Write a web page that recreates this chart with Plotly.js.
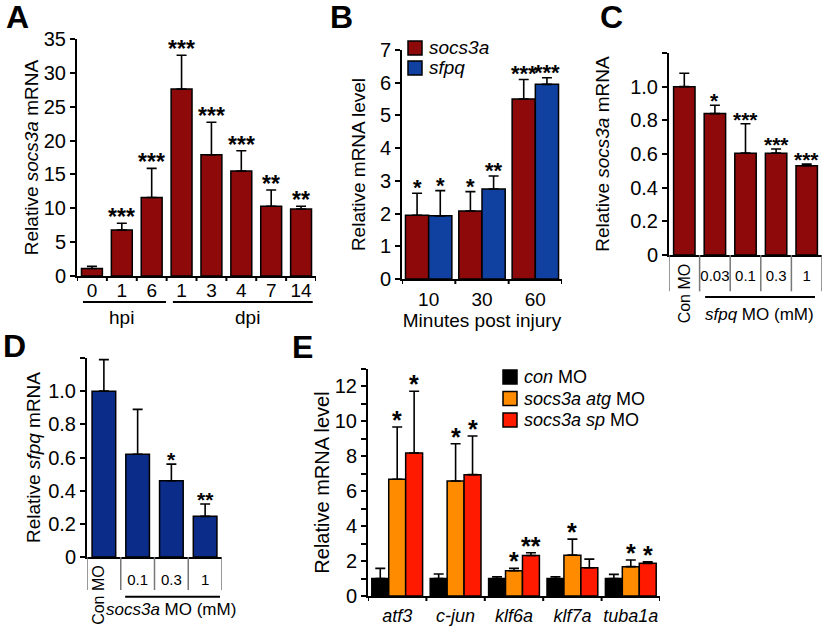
<!DOCTYPE html>
<html><head><meta charset="utf-8">
<script src="https://cdn.plot.ly/plotly-3.0.1.min.js"></script>
<style>html,body{margin:0;padding:0;background:#fff}</style>
</head><body><div id="chart" style="width:825px;height:627px"></div>
<script>
// ---------- Panel A ----------
const aCategories = ['0 hpi','1 hpi','6 hpi','1 dpi','3 dpi','4 dpi','7 dpi','14 dpi'];
const aTickText = ['0','1','6','1','3','4','7','14'];
const aValues = [1.1, 6.8, 11.6, 27.6, 17.9, 15.5, 10.3, 9.9];
const aErrors = [0.35, 1.0, 4.3, 5.0, 4.8, 3.0, 2.4, 0.4];
const aStars = ['', '***', '***', '***', '***', '***', '**', '**'];
// ---------- Panel B ----------
const bCategories = ['10','30','60'];
const bSeriesNames = ['socs3a', 'sfpq'];
const bSocs3a = [1.95, 2.08, 5.5];
const bSocs3aErr = [0.67, 0.59, 0.6];
const bSfpq = [1.93, 2.75, 5.95];
const bSfpqErr = [0.77, 0.4, 0.2];
const bSocs3aStars = ['*','*','***'];
const bSfpqStars = ['*','**','***'];
// ---------- Panel C ----------
const cCategories = ['Con MO','0.03','0.1','0.3','1'];
const cTickText = ['', '0.03','0.1','0.3','1'];
const cValues = [1.0, 0.84, 0.605, 0.605, 0.53];
const cErrors = [0.08, 0.05, 0.175, 0.025, 0.01];
const cStars = ['', '*', '***', '***', '***'];
const yTickVals12 = [0,0.2,0.4,0.6,0.8,1.0,1.2];
const yTickText12 = ['0','0.2','0.4','0.6','0.8','1.0',''];
// ---------- Panel D ----------
const dCategories = ['Con MO','0.1','0.3','1'];
const dTickText = ['', '0.1','0.3','1'];
const dValues = [1.0, 0.62, 0.46, 0.245];
const dErrors = [0.19, 0.27, 0.1, 0.075];
const dStars = ['', '', '*', '**'];
// ---------- Panel E ----------
const eCategories = ['atf3','c-jun','klf6a','klf7a','tuba1a'];
const eSeriesNames = ['<i>con</i> MO', '<i>socs3a atg</i> MO', '<i>socs3a sp</i> MO'];
const eConMO = [1.0, 1.0, 1.0, 1.0, 1.0];
const eConMOErr = [0.58, 0.26, 0.1, 0.1, 0.24];
const eAtgMO = [6.69, 6.59, 1.45, 2.34, 1.68];
const eAtgMOErr = [2.99, 2.13, 0.13, 0.92, 0.38];
const eSpMO = [8.19, 6.95, 2.32, 1.62, 1.87];
const eSpMOErr = [3.54, 2.21, 0.16, 0.49, 0.09];
const eConStars = ['', '', '', '', ''];
const eAtgStars = ['*','*','*','*','*'];
const eSpStars = ['*','*','**','','*'];

const W = 825, H = 627;
const FONT = 'Liberation Sans, Arial, sans-serif';
const DARKRED = '#8e0a0a', BBLUE = '#1040a0', DBLUE = '#0b2c88', ORANGE = '#ff8c00', RED = '#ff1a00';
const BARGAP = 0.13;
const TICK = 20;

function px(x){ return x / W; }
function py(y){ return (H - y) / H; }
const idx = arr => arr.map((c,i)=>i);

const dom = {
  A: {x:[px(77), px(316)], y:[py(276), py(39)]},
  B: {x:[px(402), px(562)], y:[py(279), py(50)]},
  C: {x:[px(669), px(822)], y:[py(255), py(53)]},
  D: {x:[px(87), px(222)], y:[py(557), py(358)]},
  E: {x:[px(368), px(660)], y:[py(596), py(369)]}
};
const domH = k => (dom[k].y[1]-dom[k].y[0]) * H;

function errBar(arr){
  return {type:'data', array:arr, arrayminus:arr.map(()=>0), symmetric:false,
          color:'#000', thickness:1.6, width:5};
}
function bar(x, y, err, color, xa, ya, opts){
  return Object.assign({
    type:'bar', x:x, y:y, xaxis:xa, yaxis:ya,
    marker:{color:color, line:{color:'#000', width:1.5}},
    error_y: errBar(err), showlegend:false, hoverinfo:'skip'
  }, opts || {});
}
const single = {width:0.7, offset:-0.35};

const traces = [
  bar(idx(aCategories), aValues, aErrors, DARKRED, 'x', 'y', single),
  bar(idx(bCategories), bSocs3a, bSocs3aErr, DARKRED, 'x2', 'y2', {name:bSeriesNames[0]}),
  bar(idx(bCategories), bSfpq, bSfpqErr, BBLUE, 'x2', 'y2', {name:bSeriesNames[1]}),
  bar(idx(cCategories), cValues, cErrors, DARKRED, 'x3', 'y3', single),
  bar(idx(dCategories), dValues, dErrors, DBLUE, 'x4', 'y4', single),
  bar(idx(eCategories), eConMO, eConMOErr, '#000', 'x5', 'y5', {name:eSeriesNames[0]}),
  bar(idx(eCategories), eAtgMO, eAtgMOErr, ORANGE, 'x5', 'y5', {name:eSeriesNames[1]}),
  bar(idx(eCategories), eSpMO, eSpMOErr, RED, 'x5', 'y5', {name:eSeriesNames[2]})
];

const axLine = {showline:true, linecolor:'#000', linewidth:2, showgrid:false, zeroline:false,
                ticks:'outside', ticklen:5, tickwidth:2, tickcolor:'#000', automargin:false, fixedrange:true};
function yax(d, extra){ return Object.assign({}, axLine, {domain:d}, extra); }
function xax(d, cats, ticktext, extra){
  return Object.assign({}, axLine, {domain:d, type:'linear', range:[-0.5, cats.length-0.5],
    tickmode:'array', tickvals:idx(cats), ticktext:ticktext, ticks:'', tickangle:0}, extra);
}

const layout = {
  width:W, height:H, autosize:false,
  margin:{l:0, r:0, t:0, b:0},
  paper_bgcolor:'#fff', plot_bgcolor:'rgba(0,0,0,0)',
  font:{family:FONT, color:'#000', size:18},
  barmode:'group', bargap:BARGAP, bargroupgap:0, showlegend:false,
  // A
  xaxis: xax(dom.A.x, aCategories, aTickText, {anchor:'y', tickfont:{size:19}, ticklabelstandoff:-4}),
  yaxis: yax(dom.A.y, {anchor:'x', range:[0,35], dtick:5, tickfont:{size:TICK},
    title:{text:'Relative <i>socs3a</i> mRNA', font:{size:19}, standoff:0}}),
  // B
  xaxis2: xax(dom.B.x, bCategories, bCategories, {anchor:'y2', tickfont:{size:19}, ticklabelstandoff:2,
    title:{text:'Minutes post injury', font:{size:19}, standoff:0}}),
  yaxis2: yax(dom.B.y, {anchor:'x2', range:[0,7], dtick:1, tickfont:{size:TICK},
    title:{text:'Relative mRNA level', font:{size:19}, standoff:9}}),
  // C
  xaxis3: xax(dom.C.x, cCategories, cTickText, {anchor:'y3', tickfont:{size:15}, ticklabelstandoff:6}),
  yaxis3: yax(dom.C.y, {anchor:'x3', range:[0,1.2], tickmode:'array', tickvals:yTickVals12, ticktext:yTickText12,
    tickfont:{size:TICK}, title:{text:'Relative <i>socs3a</i> mRNA', font:{size:19}, standoff:16}}),
  // D
  xaxis4: xax(dom.D.x, dCategories, dTickText, {anchor:'y4', tickfont:{size:15}, ticklabelstandoff:8}),
  yaxis4: yax(dom.D.y, {anchor:'x4', range:[0,1.2], tickmode:'array', tickvals:yTickVals12, ticktext:yTickText12,
    tickfont:{size:TICK}, title:{text:'Relative <i>sfpq</i> mRNA', font:{size:19}, standoff:3}}),
  // E
  xaxis5: xax(dom.E.x, eCategories, eCategories, {anchor:'y5', tickfont:{size:18, style:'italic'}, ticklabelstandoff:2}),
  yaxis5: yax(dom.E.y, {anchor:'x5', range:[0,13], dtick:2, tickfont:{size:TICK},
    minor:{dtick:1, ticks:'outside', ticklen:5, tickwidth:2, tickcolor:'#000'},
    title:{text:'Relative mRNA level', font:{size:20}, standoff:0}}),
  annotations:[], shapes:[]
};

// boundary tick marks on the category-index axes
function boundaryTicks(xa, ya, n, lenFrac){
  for(let i=0;i<=n;i++){
    layout.shapes.push({type:'line', xref:xa, yref:ya+' domain', x0:i-0.5, x1:i-0.5, y0:0, y1:lenFrac,
      line:{color:'#000', width:2}});
  }
}
boundaryTicks('x', 'y', aCategories.length, -5/domH('A'));
boundaryTicks('x2', 'y2', bCategories.length, -5/domH('B'));
boundaryTicks('x5', 'y5', eCategories.length, -5/domH('E'));

// Significance stars
function starAnn(xa, ya, xs, vals, errs, stars, shift, size){
  xs.forEach((x,i)=>{
    if(!stars[i]) return;
    layout.annotations.push({xref:xa, yref:ya, x:x, y:vals[i]+errs[i], text:stars[i], showarrow:false,
      yanchor:'bottom', xanchor:'center', xshift:shift, yshift:-9, font:{size:size, weight:'bold'}});
  });
}
function groupShift(d, ncat, ntr, i){
  const catPx = (d[1]-d[0]) * W / ncat;
  const barPx = catPx * (1-BARGAP) / ntr;
  return (i - (ntr-1)/2) * barPx;
}
starAnn('x','y', idx(aCategories), aValues, aErrors, aStars, 0, 23);
starAnn('x2','y2', idx(bCategories), bSocs3a, bSocs3aErr, bSocs3aStars, groupShift(dom.B.x,3,2,0), 22);
starAnn('x2','y2', idx(bCategories), bSfpq, bSfpqErr, bSfpqStars, groupShift(dom.B.x,3,2,1), 22);
starAnn('x3','y3', idx(cCategories), cValues, cErrors, cStars, 0, 21);
starAnn('x4','y4', idx(dCategories), dValues, dErrors, dStars, 0, 21);
starAnn('x5','y5', idx(eCategories), eConMO, eConMOErr, eConStars, groupShift(dom.E.x,5,3,0), 25);
starAnn('x5','y5', idx(eCategories), eAtgMO, eAtgMOErr, eAtgStars, groupShift(dom.E.x,5,3,1), 25);
starAnn('x5','y5', idx(eCategories), eSpMO, eSpMOErr, eSpStars, groupShift(dom.E.x,5,3,2), 25);

// A: hpi / dpi brackets
const hLine = {color:'#000', width:2};
function domText(xa, ya, x, y, text, size, extra){
  layout.annotations.push(Object.assign({xref:xa, yref:ya+' domain', x:x, y:y, text:text, showarrow:false,
    xanchor:'center', yanchor:'middle', font:{size:size}}, extra || {}));
}
layout.shapes.push({type:'line', xref:'x', yref:'y domain', x0:-0.3, x1:2.48, y0:-0.11, y1:-0.11, line:hLine});
layout.shapes.push({type:'line', xref:'x', yref:'y domain', x0:2.71, x1:7.39, y0:-0.11, y1:-0.11, line:hLine});
domText('x','y', 1.0, -0.177, 'hpi', 19);
domText('x','y', 5.2, -0.177, 'dpi', 19);

// C & D: dose tables under axis
function doseTable(xa, ya, n, depth, lineY, lineX0, lineX1, label, labelX, labelY, conShift){
  for(let i=0;i<=n;i++){
    layout.shapes.push({type:'line', xref:xa, yref:ya+' domain', x0:i-0.5, x1:i-0.5, y0:0, y1:depth,
      line:{color:'#777', width:1.5}});
  }
  layout.shapes.push({type:'line', xref:xa, yref:ya+' domain', x0:lineX0, x1:lineX1, y0:lineY, y1:lineY, line:hLine});
  domText(xa, ya, labelX, labelY, label, 17);
  domText(xa, ya, 0, -0.03, 'Con MO', 16, {textangle:-90, yanchor:'top', xshift:conShift});
}
doseTable('x3','y3', cCategories.length, -0.18, -0.208, 0.68, 4.27, '<i>sfpq</i> MO (mM)', 2.47, -0.297, 0);
doseTable('x4','y4', dCategories.length, -0.166, -0.20, 0.63, 3.44, '<i>socs3a</i> MO (mM)', 2.0, -0.266, -5);

// Legends (drawn in paper space next to the plots)
function legend(names, colors, x0, yTop, sq, step, size){
  names.forEach((n,i)=>{
    const y = yTop + i*step;
    layout.shapes.push({type:'rect', xref:'paper', yref:'paper', x0:px(x0), x1:px(x0+sq), y0:py(y), y1:py(y+sq),
      fillcolor:colors[i], line:{color:'#000', width:1.5}});
    layout.annotations.push({xref:'paper', yref:'paper', x:px(x0+sq+5), y:py(y+sq/2), text:n, showarrow:false,
      xanchor:'left', yanchor:'middle', font:{size:size}});
  });
}
legend(bSeriesNames.map(n=>'<i>'+n+'</i>'), [DARKRED, BBLUE], 408, 41, 14, 20, 19);
legend(eSeriesNames, ['#000', ORANGE, RED], 503, 370, 14, 21.5, 18);

// Panel letters
[['A',17,17],['B',341,17],['C',611,17],['D',14,346],['E',302,347]].forEach(p=>{
  layout.annotations.push({xref:'paper', yref:'paper', x:px(p[1]), y:py(p[2]), text:'<b>'+p[0]+'</b>',
    showarrow:false, xanchor:'center', yanchor:'middle', font:{size:32}});
});

Plotly.newPlot('chart', traces, layout, {staticPlot:true, displayModeBar:false});
</script>
</body></html>
